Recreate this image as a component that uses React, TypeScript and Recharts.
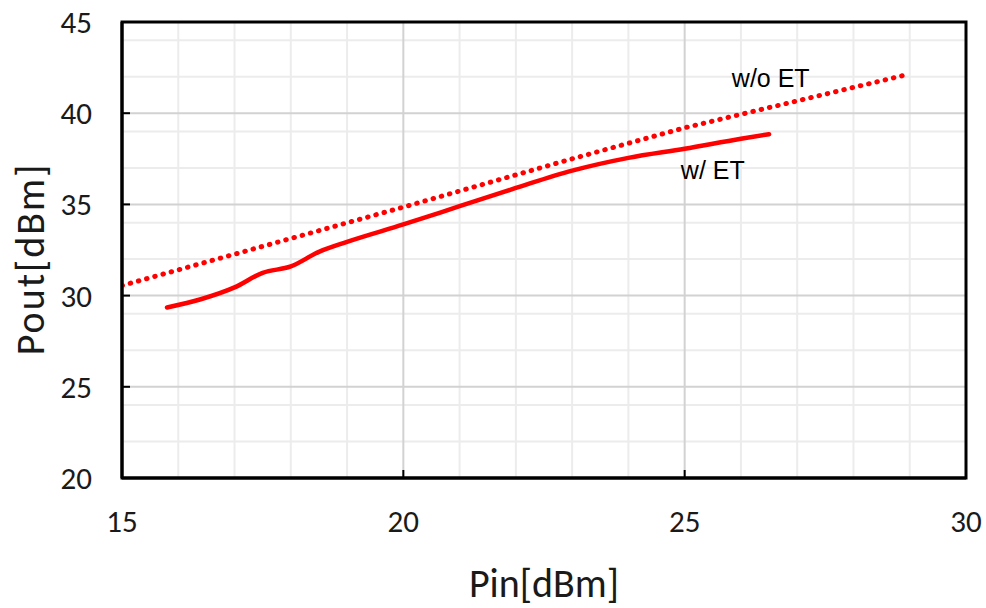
import { LineChart, Line, XAxis, YAxis, CartesianGrid, ReferenceArea, ReferenceDot } from 'recharts';

// Pin [dBm] / Pout [dBm]
const withEtPin = [15.8, 16.4, 17, 17.5, 18, 18.5, 19, 20, 21, 22, 23, 24, 25, 26, 26.5];
const withEtPout = [29.35, 29.8, 30.45, 31.25, 31.6, 32.4, 32.95, 33.9, 34.9, 35.9, 36.85, 37.55, 38.05, 38.6, 38.85];

const withoutEtPin = [15, 20, 23, 25, 29];
const withoutEtPout = [30.55, 34.85, 37.5, 39.2, 42.15];

const xTicks = [15, 20, 25, 30];
const yTicks = [20, 25, 30, 35, 40, 45];
const xMinor = [16, 17, 18, 19, 21, 22, 23, 24, 26, 27, 28, 29];
const yMinor = [21, 22, 23, 24, 26, 27, 28, 29, 31, 32, 33, 34, 36, 37, 38, 39, 41, 42, 43, 44];
const xMajor = [20, 25];
const yMajor = [25, 30, 35, 40];

const withEt = withEtPin.map((pin, i) => ({ pin, pout: withEtPout[i] }));
const withoutEt = withoutEtPin.map((pin, i) => ({ pin, pout: withoutEtPout[i] }));

const titleFont = 'Calibri, Carlito, Lato, sans-serif';
const tickFont = { fontFamily: titleFont, fontSize: 31, fill: '#1a1a1a' };
const noteFont = 'Arial, "Liberation Sans", sans-serif';

export default function App() {
  return (
    <div style={{ position: 'absolute', left: 0, top: 0, width: 986, height: 608, background: '#fff' }}>
      <LineChart width={986} height={608} margin={{ top: 22, right: 20, bottom: 0, left: 0 }}>
        <CartesianGrid horizontalValues={yMinor} verticalValues={xMinor} stroke="#ececec" strokeWidth={2} />
        <CartesianGrid horizontalValues={yMajor} verticalValues={xMajor} stroke="#d2d2d2" strokeWidth={2} />
        <XAxis
          type="number"
          dataKey="pin"
          domain={[15, 30]}
          ticks={xTicks}
          allowDataOverflow
          height={130}
          tickSize={-8}
          tickMargin={40}
          tick={tickFont}
          axisLine={{ stroke: '#000', strokeWidth: 3 }}
          tickLine={{ stroke: '#000', strokeWidth: 2 }}
          label={{
            value: 'Pin[dBm]',
            position: 'insideBottom',
            offset: 11,
            fontFamily: titleFont,
            fontSize: 40,
            fill: '#1a1a1a',
          }}
        />
        <YAxis
          type="number"
          dataKey="pout"
          domain={[20, 45]}
          ticks={yTicks}
          allowDataOverflow
          width={122}
          tickSize={-8}
          tickMargin={38}
          tick={tickFont}
          axisLine={{ stroke: '#000', strokeWidth: 3 }}
          tickLine={{ stroke: '#000', strokeWidth: 2 }}
          label={{
            content: ({ viewBox }: any) => {
              const cx = viewBox.x + 44;
              const cy = viewBox.y + viewBox.height / 2 + 9;
              return (
                <text
                  x={cx}
                  y={cy}
                  transform={`rotate(-90 ${cx} ${cy})`}
                  textAnchor="middle"
                  fontFamily={titleFont}
                  fontSize={40}
                  letterSpacing={2}
                  fill="#1a1a1a"
                >
                  Pout[dBm]
                </text>
              );
            },
          }}
        />
        <ReferenceArea x1={15} x2={30} y1={20} y2={45} fill="none" stroke="#000" strokeWidth={3} />
        <Line
          data={withoutEt}
          dataKey="pout"
          type="linear"
          stroke="#ff0000"
          strokeWidth={5}
          strokeDasharray="0.5 8"
          strokeLinecap="round"
          dot={false}
          isAnimationActive={false}
        />
        <Line
          data={withEt}
          dataKey="pout"
          type="monotone"
          stroke="#ff0000"
          strokeWidth={4.5}
          strokeLinecap="round"
          dot={false}
          isAnimationActive={false}
        />
        <ReferenceDot
          x={26.53}
          y={41.93}
          r={0}
          fill="none"
          stroke="none"
          label={{ value: 'w/o ET', position: 'center', fontFamily: noteFont, fontSize: 25, fill: '#000' }}
        />
        <ReferenceDot
          x={25.5}
          y={36.89}
          r={0}
          fill="none"
          stroke="none"
          label={{ value: 'w/ ET', position: 'center', fontFamily: noteFont, fontSize: 25, fill: '#000' }}
        />
      </LineChart>
    </div>
  );
}
